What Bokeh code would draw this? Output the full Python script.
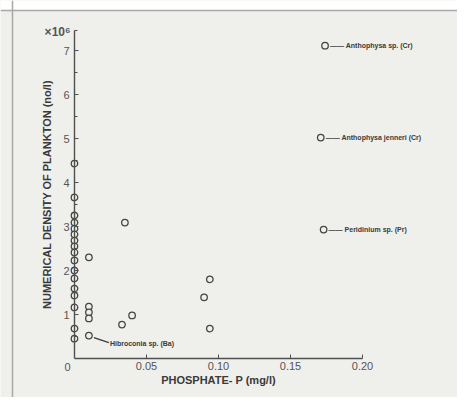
from bokeh.plotting import figure
from bokeh.models import FixedTicker, NumeralTickFormatter, Label, ColumnDataSource, BoxAnnotation, Span
from bokeh.core.properties import value
from bokeh.embed import file_html
from bokeh.resources import INLINE

# ---- data ----
# points lying on the density axis (phosphate ~ 0)
axis_phosphate = [0.0, 0.0, 0.0, 0.0, 0.0, 0.0, 0.0, 0.0, 0.0, 0.0, 0.0, 0.0, 0.0, 0.0, 0.0, 0.0, 0.0]
axis_density = [4.43, 3.66, 3.25, 3.09, 2.95, 2.82, 2.68, 2.55, 2.41, 2.23, 2.00, 1.82, 1.59, 1.43, 1.16, 0.68, 0.45]
# other unlabelled points
phosphate = [0.010, 0.010, 0.010, 0.010, 0.035, 0.033, 0.040, 0.094, 0.090, 0.094]
density = [2.30, 1.18, 1.05, 0.91, 3.09, 0.77, 0.98, 1.80, 1.39, 0.68]
# labelled points
lab_phosphate = [0.174, 0.171, 0.173]
lab_density = [7.11, 5.02, 2.93]
lab_names = ["Anthophysa sp. (Cr)", "Anthophysa jenneri (Cr)", "Peridinium sp. (Pr)"]
low_phosphate = [0.010]
low_density = [0.52]
low_names = ["Hibroconia sp. (Ba)"]

x_ticks = [0.05, 0.10, 0.15, 0.20]
y_ticks = [1, 2, 3, 4, 5, 6, 7]
y_minor = [0.5, 1.5, 2.5, 3.5, 4.5, 5.5, 6.5, 7.45]

BG = "#efefec"
INK = "#3a3a3a"
FONT = "Liberation Sans"

W, H = 457, 397
X0PX, Y0PX, XS, YS = 74, 358, 1440.0, 44.0   # pixel position of the origin and pixels per unit

p = figure(width=W, height=H, output_backend="svg", toolbar_location=None,
           x_range=(-X0PX / XS, (W - X0PX) / XS), y_range=(-(H - Y0PX) / YS, Y0PX / YS),
           min_border_left=0, min_border_right=0, min_border_top=0, min_border_bottom=0)
p.background_fill_color = BG
p.border_fill_color = BG
p.outline_line_color = None
p.grid.visible = False

# scanned page frame
p.add_layout(BoxAnnotation(bottom=(Y0PX - 10) / YS, fill_color="white", fill_alpha=1.0,
                           line_color=None, level="underlay"))
p.add_layout(Span(location=(Y0PX - 10) / YS, dimension="width", line_color="#a8a8a8", line_width=1.5))
p.add_layout(Span(location=(12 - X0PX) / XS, dimension="height", line_color="#a8a8a8", line_width=1.5))

for ax in (p.xaxis[0], p.yaxis[0]):
    ax.fixed_location = 0
    ax.axis_line_color = "#505050"
    ax.axis_line_width = 1.4
    ax.major_tick_line_color = "#505050"
    ax.minor_tick_line_color = "#505050"
    ax.major_tick_out = 0
    ax.major_tick_in = 4
    ax.minor_tick_out = 0
    ax.minor_tick_in = 3
    ax.major_label_text_font = FONT
    ax.major_label_text_font_size = "11px"
    ax.major_label_text_color = "#555555"
    ax.axis_label_text_font = FONT
    ax.axis_label_text_font_style = "bold"
    ax.axis_label_text_color = INK

p.xaxis.ticker = FixedTicker(ticks=x_ticks, minor_ticks=[])
p.xaxis.formatter = NumeralTickFormatter(format="0.00")
p.xaxis.bounds = (0, 0.20)
p.xaxis.axis_label = "PHOSPHATE- P (mg/l)"
p.xaxis.axis_label_text_font_size = "11px"
p.xaxis.major_label_standoff = 3
p.xaxis.axis_label_standoff = 1

p.yaxis.ticker = FixedTicker(ticks=y_ticks, minor_ticks=y_minor)
p.yaxis.bounds = (0, 7.45)
p.yaxis.axis_label = "NUMERICAL DENSITY OF PLANKTON (no/l)"
p.yaxis.axis_label_text_font_size = "11px"
p.yaxis.major_label_standoff = 5
p.yaxis.axis_label_standoff = 7

circ = dict(size=6.5, marker="circle", fill_color=BG, line_color="#454545", line_width=1.3)
p.scatter(axis_phosphate, axis_density, **circ)
p.scatter(phosphate, density, **circ)
p.scatter(lab_phosphate, lab_density, **circ)
p.scatter(low_phosphate, low_density, **circ)

src = ColumnDataSource(dict(x=lab_phosphate, y=lab_density,
                            t=["\u2014\u2014 " + n for n in lab_names]))
p.text("x", "y", text="t", source=src, x_offset=5, text_baseline="middle",
       text_font=value(FONT), text_font_style="bold", text_font_size="7px", text_color=INK)

# sloping leader for the low point
p.segment(x0=[x + 5 / XS for x in low_phosphate], y0=[y - 2 / YS for y in low_density],
          x1=[x + 20 / XS for x in low_phosphate], y1=[y - 7 / YS for y in low_density],
          line_color=INK, line_width=1.2)
p.text([x + 21 / XS for x in low_phosphate], [y - 8 / YS for y in low_density], text=low_names,
       text_baseline="middle", text_font=value(FONT), text_font_style="bold",
       text_font_size="7px", text_color=INK)

p.add_layout(Label(x=-4 / XS, y=7.41, text="\u00d710\u2076", text_align="right", text_baseline="middle",
                   text_font=FONT, text_font_size="12px", text_font_style="bold", text_color="#555555"))
p.add_layout(Label(x=-7 / XS, y=-8 / YS, text="0", text_align="center", text_baseline="middle",
                   text_font=FONT, text_font_size="11px", text_color="#555555"))

open("out.html", "w").write(file_html(p, INLINE))
